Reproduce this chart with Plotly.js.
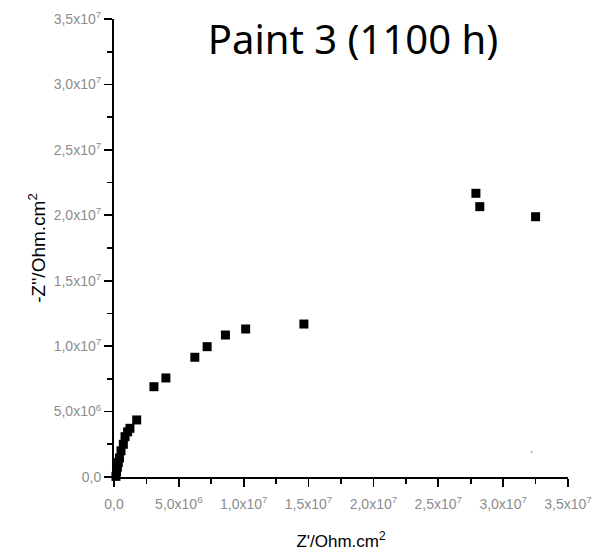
<!DOCTYPE html>
<html>
<head>
<meta charset="utf-8">
<script src="https://cdn.plot.ly/plotly-3.0.1.min.js"></script>
<style>html,body{margin:0;padding:0;background:#fff;}#chart{width:615px;height:556px;}</style>
</head>
<body>
<div id="chart"></div>
<script>
// Z' (real impedance) and -Z'' (imaginary impedance), Ohm.cm^2
const zReal = [0.15e6, 0.2e6, 0.26e6, 0.33e6, 0.42e6, 0.54e6, 0.72e6, 0.85e6, 1.05e6, 1.23e6, 1.75e6,
               3.08e6, 4.0e6, 6.23e6, 7.18e6, 8.59e6, 10.15e6, 14.64e6, 27.9e6, 28.2e6, 32.5e6];
const zImag = [0.05e6, 0.4e6, 0.75e6, 1.1e6, 1.45e6, 2.0e6, 2.5e6, 3.08e6, 3.45e6, 3.72e6, 4.36e6,
               6.9e6, 7.57e6, 9.15e6, 9.96e6, 10.85e6, 11.31e6, 11.69e6, 21.68e6, 20.66e6, 19.89e6];
// faint isolated point near the lower right
const faintReal = [32.2e6];
const faintImag = [1.9e6];

const tickVals = [0, 5e6, 1e7, 1.5e7, 2e7, 2.5e7, 3e7, 3.5e7];
const tickText = ['0,0', '5,0x10<sup>6</sup>', '1,0x10<sup>7</sup>', '1,5x10<sup>7</sup>',
                  '2,0x10<sup>7</sup>', '2,5x10<sup>7</sup>', '3,0x10<sup>7</sup>', '3,5x10<sup>7</sup>'];

const tickFont = {family: 'Liberation Sans, Arial', size: 14, color: '#8c8c8c'};

function axis(titleText, titleFont, standoff, labelStandoff) {
  return {
    range: [0, 3.5e7],
    tickmode: 'array', tickvals: tickVals, ticktext: tickText,
    tickfont: tickFont, ticklabelstandoff: labelStandoff,
    ticks: 'outside', ticklen: 8, tickwidth: 1.6, tickcolor: '#000',
    minor: {ticks: 'outside', dtick: 2.5e6, tick0: 0, ticklen: 5, tickwidth: 1.6, tickcolor: '#000', showgrid: false},
    showline: true, linecolor: '#000', linewidth: 2, mirror: false,
    showgrid: false, zeroline: false,
    title: {text: titleText, font: titleFont, standoff: standoff},
    automargin: false, fixedrange: true
  };
}

const traces = [
  {x: zReal, y: zImag, type: 'scatter', mode: 'markers',
   marker: {symbol: 'square', size: 9, color: '#000'}, cliponaxis: false, hoverinfo: 'skip'},
  {x: faintReal, y: faintImag, type: 'scatter', mode: 'markers',
   marker: {symbol: 'square', size: 2, color: '#bbbbbb'}, hoverinfo: 'skip'}
];

const layout = {
  width: 615, height: 556,
  margin: {l: 114, r: 47, t: 19, b: 79},
  paper_bgcolor: '#fff', plot_bgcolor: '#fff',
  showlegend: false,
  title: {text: 'Paint 3 (1100 h)', font: {family: 'Noto Sans', size: 40, color: '#000'},
          xref: 'container', yref: 'container', x: 0.574, xanchor: 'center', y: 0.928, yanchor: 'middle'},
  xaxis: axis("Z'/Ohm.cm<sup>2</sup>", {family: 'Liberation Sans, Arial', size: 17, color: '#000'}, 24, 5),
  yaxis: axis("-Z''/Ohm.cm<sup>2</sup>", {family: 'Liberation Sans, Arial', size: 19, color: '#000'}, 3, 0)
};

Plotly.newPlot('chart', traces, layout, {staticPlot: true, displayModeBar: false});
</script>
</body>
</html>
